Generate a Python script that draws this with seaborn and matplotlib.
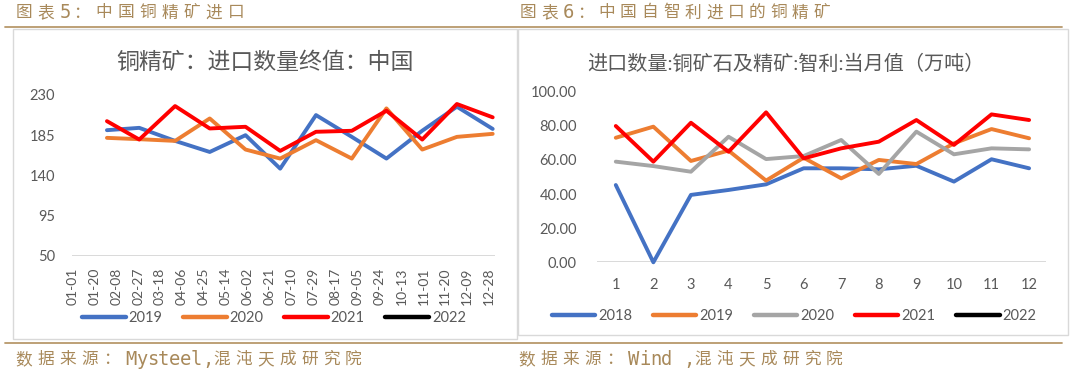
import matplotlib
matplotlib.use('Agg')
import matplotlib.pyplot as plt
import matplotlib.dates as mdates
from matplotlib.lines import Line2D
from matplotlib.patches import Rectangle
import seaborn as sns
import pandas as pd

W, H = 1080, 371

# ---- data: left chart (copper concentrate imports, monthly, 10k t) ----
left_years = ['2019', '2020', '2021', '2022']
left_colors = ['#4472C4', '#ED7D31', '#FF0000', '#000000']
cn_2019 = [190.6, 193.2, 178.6, 166.2, 185.0, 147.5, 207.5, 183.1, 158.8, 190.0, 216.9, 192.0]
cn_2020 = [182.0, 180.5, 178.6, 203.7, 168.9, 158.8, 179.4, 158.8, 215.0, 168.9, 183.1, 186.5]
cn_2021 = [200.7, 180.1, 217.6, 192.5, 194.4, 167.4, 188.8, 189.9, 212.4, 180.1, 219.9, 205.0]
left_ticks = ['50', '95', '140', '185', '230']

# ---- data: right chart (imports from Chile, monthly) ----
right_years = ['2018', '2019', '2020', '2021', '2022']
right_colors = ['#4472C4', '#ED7D31', '#A5A5A5', '#FF0000', '#000000']
months = list(range(1, 13))
cl_2018 = [45.3, 0.0, 39.5, 42.4, 45.7, 55.1, 55.1, 54.5, 56.6, 47.3, 60.4, 55.1]
cl_2019 = [73.0, 79.5, 59.4, 65.5, 47.9, 61.3, 49.2, 60.0, 57.6, 69.7, 78.1, 72.7]
cl_2020 = [59.0, 56.4, 53.1, 73.6, 60.5, 62.3, 71.7, 51.8, 76.6, 63.3, 66.8, 66.2]
cl_2021 = [79.9, 59.0, 81.8, 64.8, 87.9, 60.9, 66.8, 70.7, 83.4, 68.8, 86.7, 83.4]
right_ticks = ['0.00', '20.00', '40.00', '60.00', '80.00', '100.00']

month_ends = pd.date_range('2019-01-31', periods=12, freq='ME')
date_ticks = pd.date_range('2019-01-01', '2019-12-31', freq='19D')

TXT = '#595959'
BROWN_TXT = '#a8895a'
BROWN_LINE = '#b8996b'
GRID = '#d9d9d9'

sns.set_style('white')
plt.rcParams['font.family'] = ['Lato', 'Noto Sans CJK SC', 'DejaVu Sans']


def fx(x):
    return x / W


def fy(y):
    return 1 - y / H


def spaced(fig, x, y, s, wide, narrow, size):
    # fixed pitch layout, like the fangsong captions
    for ch in s:
        if ord(ch) < 256:
            fig.text(fx(x), fy(y), ch, ha='left', va='center', fontsize=size + 1.5,
                     color=BROWN_TXT, family=['DejaVu Sans Mono'])
            x += narrow
        else:
            fig.text(fx(x), fy(y), ch, ha='left', va='center', fontsize=size,
                     color=BROWN_TXT, family=['Noto Sans CJK SC'])
            x += wide


fig = plt.figure(figsize=(W / 100, H / 100), dpi=100)

# ---------------- left chart ----------------
ax1 = fig.add_axes([fx(72.3), fy(255.7), (495 - 72.3) / W, (255.7 - 95) / H])
df1 = pd.DataFrame({
    'date': list(month_ends) * 3,
    'value': cn_2019 + cn_2020 + cn_2021,
    'year': ['2019'] * 12 + ['2020'] * 12 + ['2021'] * 12,
})
sns.lineplot(data=df1, x='date', y='value', hue='year', hue_order=left_years[:3],
             palette=dict(zip(left_years, left_colors)), lw=2.8, legend=False,
             ax=ax1, clip_on=False, solid_joinstyle='round')
ax1.set_ylim(50, 230)
ax1.set_yticks([float(t) for t in left_ticks])
ax1.set_yticklabels(left_ticks)
ax1.set_xlim(pd.Timestamp('2019-01-01'), pd.Timestamp('2020-01-02'))
ax1.set_xticks(date_ticks)
ax1.xaxis.set_major_formatter(mdates.DateFormatter('%m-%d'))
ax1.tick_params(axis='x', length=0, pad=8.5, labelsize=10, labelcolor=TXT, labelrotation=90)
ax1.tick_params(axis='y', length=0, pad=12.5, labelsize=10.5, labelcolor=TXT)
sns.despine(ax=ax1, left=True, bottom=True)
ax1.axhline(50, color=GRID, lw=1.4, zorder=0)
ax1.set_xlabel('')
ax1.set_ylabel('')

h1 = [Line2D([], [], color=c, lw=3.2, solid_capstyle='round') for c in left_colors]
fig.legend(h1, left_years, loc='center', bbox_to_anchor=(fx(274), fy(318.3)), ncol=4,
           frameon=False, fontsize=10.5, handlelength=3.0, handletextpad=0.2,
           columnspacing=1.4, labelcolor=TXT)
fig.text(fx(265), fy(62), '铜精矿：进口数量终值：中国', ha='center', va='center',
         fontsize=16.5, color=TXT)

# ---------------- right chart ----------------
ax2 = fig.add_axes([fx(597), fy(262.3), (1046 - 597) / W, (262.3 - 91.7) / H])
df2 = pd.DataFrame({
    'month': months * 4,
    'value': cl_2018 + cl_2019 + cl_2020 + cl_2021,
    'year': ['2018'] * 12 + ['2019'] * 12 + ['2020'] * 12 + ['2021'] * 12,
})
sns.lineplot(data=df2, x='month', y='value', hue='year', hue_order=right_years[:4],
             palette=dict(zip(right_years, right_colors)), lw=2.8, legend=False,
             ax=ax2, clip_on=False, solid_joinstyle='round')
ax2.set_ylim(0, 100)
ax2.set_yticks([float(t) for t in right_ticks])
ax2.set_yticklabels(right_ticks)
ax2.set_xlim(0.5, 12.45)
ax2.set_xticks(months)
ax2.tick_params(axis='x', length=0, pad=11, labelsize=10.5, labelcolor=TXT)
ax2.tick_params(axis='y', length=0, pad=14.5, labelsize=10.5, labelcolor=TXT)
sns.despine(ax=ax2, left=True, bottom=True)
ax2.axhline(0, color=GRID, lw=1.4, zorder=0)
ax2.set_xlabel('')
ax2.set_ylabel('')

h2 = [Line2D([], [], color=c, lw=3.2, solid_capstyle='round') for c in right_colors]
fig.legend(h2, right_years, loc='center', bbox_to_anchor=(fx(794), fy(315.7)), ncol=5,
           frameon=False, fontsize=10.5, handlelength=3.0, handletextpad=0.2,
           columnspacing=1.4, labelcolor=TXT)
fig.text(fx(786), fy(63), '进口数量:铜矿石及精矿:智利:当月值（万吨）', ha='center', va='center',
         fontsize=14.5, color=TXT)

# ---------------- frames, rules, captions ----------------
fig.add_artist(Rectangle((fx(13.3), fy(339)), (517.3 - 13.3) / W, (339 - 29.3) / H,
                         transform=fig.transFigure, fill=False, ec=GRID, lw=1))
fig.add_artist(Rectangle((fx(518), fy(335)), (1068 - 518) / W, (335 - 29.3) / H,
                         transform=fig.transFigure, fill=False, ec=GRID, lw=1))
for yy in (27, 343):
    fig.add_artist(Line2D([fx(5), fx(1062)], [fy(yy), fy(yy)], transform=fig.transFigure,
                          color=BROWN_LINE, lw=1.3))

spaced(fig, 15.5, 13, '图表5：中国铜精矿进口', 22, 14, 12)
spaced(fig, 520, 13, '图表6：中国自智利进口的铜精矿', 21.5, 14, 12)
spaced(fig, 15, 359.5, '数据来源：Mysteel,混沌天成研究院', 22, 11, 12)
spaced(fig, 518, 359.5, '数据来源：Wind ,混沌天成研究院', 22, 11, 12)

fig.savefig('out.png', dpi=100)
